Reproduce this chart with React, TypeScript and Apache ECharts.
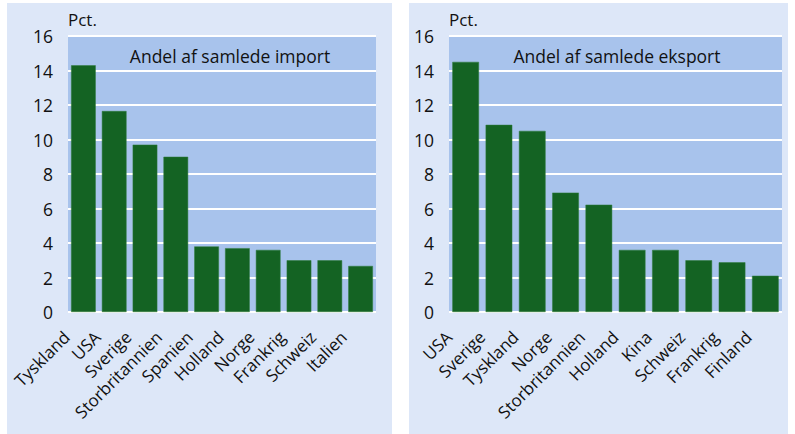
import React, { useEffect, useRef } from "react";
import * as echarts from "echarts";

const importCategories = ["Tyskland", "USA", "Sverige", "Storbritannien", "Spanien", "Holland", "Norge", "Frankrig", "Schweiz", "Italien"];
const importValues = [14.3, 11.65, 9.7, 9.0, 3.8, 3.7, 3.6, 3.0, 3.0, 2.67];
const exportCategories = ["USA", "Sverige", "Tyskland", "Norge", "Storbritannien", "Holland", "Kina", "Schweiz", "Frankrig", "Finland"];
const exportValues = [14.5, 10.85, 10.5, 6.92, 6.22, 3.6, 3.6, 3.0, 2.88, 2.1];
const importTitle = "Andel af samlede import";
const exportTitle = "Andel af samlede eksport";
const unitLabel = "Pct.";

const FONT = "Open Sans";
const PANEL = "#dde7f8";
const PLOT = "#a8c3ec";
const BAR = "#146323";
const TEXT = "#111111";

export default function App() {
  const ref = useRef<HTMLDivElement>(null);
  useEffect(() => {
    if (!ref.current) return;
    const chart = echarts.init(ref.current, undefined, { renderer: "svg" });
    const grids = [
      { left: 68, top: 36, width: 308, height: 276 },
      { left: 449, top: 36, width: 333, height: 276 },
    ];
    const mkX = (cats: string[], gi: number) => ({
      type: "category",
      gridIndex: gi,
      data: cats,
      axisLine: { show: false },
      axisTick: { show: false },
      axisLabel: { rotate: 45, fontSize: 17, color: TEXT, fontFamily: FONT, margin: 5, interval: 0, padding: [0, 24, 0, 0] },
    });
    const mkY = (gi: number) => ({
      type: "value",
      gridIndex: gi,
      min: 0,
      max: 16,
      interval: 2,
      name: unitLabel,
      nameLocation: "end",
      nameGap: 8,
      nameTextStyle: { align: "left", fontSize: 17, color: TEXT, fontFamily: FONT },
      axisLine: { show: false },
      axisTick: { show: false },
      axisLabel: { fontSize: 17.5, color: TEXT, fontFamily: FONT, margin: 15 },
      splitLine: { show: true, lineStyle: { color: "#ffffff", width: 2 } },
    });
    chart.setOption({
      animation: false,
      graphic: [
        { type: "rect", z: -10, shape: { x: 7, y: 3, width: 385, height: 431 }, style: { fill: PANEL } },
        { type: "rect", z: -10, shape: { x: 409, y: 3, width: 379, height: 431 }, style: { fill: PANEL } },
        { type: "text", z: 10, x: 230, y: 56, style: { text: importTitle, fontSize: 17.5, fontFamily: FONT, fill: TEXT, textAlign: "center", textVerticalAlign: "middle" } },
        { type: "text", z: 10, x: 617, y: 56, style: { text: exportTitle, fontSize: 17.5, fontFamily: FONT, fill: TEXT, textAlign: "center", textVerticalAlign: "middle" } },
      ],
      grid: grids.map((g) => ({ ...g, show: true, backgroundColor: PLOT, borderWidth: 0, containLabel: false })),
      xAxis: [mkX(importCategories, 0), mkX(exportCategories, 1)],
      yAxis: [mkY(0), mkY(1)],
      series: [
        { type: "bar", xAxisIndex: 0, yAxisIndex: 0, data: importValues, barCategoryGap: "20%", itemStyle: { color: BAR, borderColor: "#2e7a3a", borderWidth: 0.5 } },
        { type: "bar", xAxisIndex: 1, yAxisIndex: 1, data: exportValues, barCategoryGap: "20%", itemStyle: { color: BAR, borderColor: "#2e7a3a", borderWidth: 0.5 } },
      ],
    });
    return () => chart.dispose();
  }, []);
  return <div ref={ref} style={{ position: "fixed", left: 0, top: 0, width: 795, height: 434, background: "#ffffff" }} />;
}
